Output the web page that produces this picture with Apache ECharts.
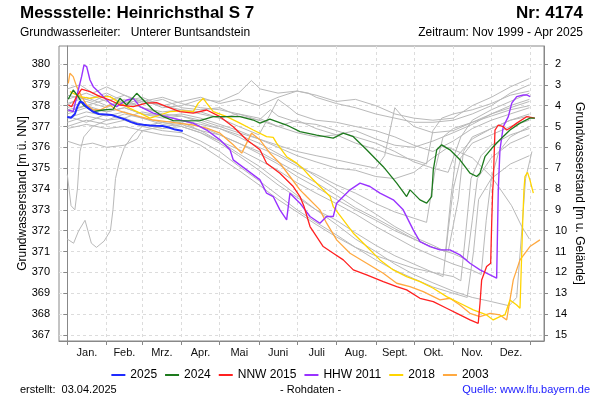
<!DOCTYPE html>
<html><head><meta charset="utf-8">
<script src="https://cdn.jsdelivr.net/npm/echarts@6/dist/echarts.min.js"></script>
<style>html,body{margin:0;padding:0;background:#fff}#c{width:600px;height:400px}</style>
</head><body><div id="c"></div>
<script>
// Month ticks (day of year) and labels
const monthStarts = [0,31,59,90,120,151,181,212,243,273,304,334,365];
const monthMids = [15.5,45,74.5,105,135.5,166,196.5,227.5,258,288.5,319,349.5];
const monthLabels = ['Jan.','Feb.','Mrz.','Apr.','Mai','Juni','Juli','Aug.','Sept.','Okt.','Nov.','Dez.'];
const levelTicks = [367,368,369,370,371,372,373,374,375,376,377,378,379,380];
const groundLevel = 382; // m ü. NN, for right axis (m u. Gelände)

// Highlighted years: [day of year, m ü. NN]
const y2025 = [[0,377.45],[3,377.42],[6,377.6],[8,377.95],[10,378.2],[12,378.15],[15,377.95],[20,377.72],[25,377.6],[30,377.58],[35,377.55],[40,377.45],[45,377.35],[50,377.22],[55,377.12],[60,377.08],[65,377.05],[70,377.03],[75,377.02],[80,376.95],[85,376.85],[91,376.78]];
const y2024 = [[0.8,378.31],[4.7,378.75],[8.7,378.43],[12.6,378.03],[20.5,377.71],[28.4,377.79],[36.2,377.83],[41.5,378.35],[46.8,378.03],[54.7,378.59],[59.9,378.27],[67.7,377.79],[75.6,377.47],[83.5,377.28],[94,377.27],[104.5,377.28],[115,377.47],[125.6,377.47],[136,377.47],[146.5,377.31],[151.8,377.16],[159.6,377.35],[172.8,377.07],[183.3,376.75],[196.4,376.59],[209.5,376.44],[217.4,376.68],[225.3,376.51],[235.8,375.88],[248.9,375.07],[259.5,374.28],[267.3,373.64],[270,373.96],[273.9,373.72],[277.8,373.48],[283.1,373.32],[287,373.64],[288.3,374.92],[291,375.88],[294.9,376.12],[301.4,375.88],[309.3,375.4],[317.2,374.76],[322.5,374.6],[325.1,374.76],[329,375.55],[335.5,376.03],[340.8,376.36],[348.7,376.83],[356.6,377.16],[364.4,377.4],[368.3,377.4]];
const nnw2015 = [[0.8,378.03],[3.4,377.95],[7.3,378.43],[11.3,378.79],[17.9,378.67],[25.8,378.43],[33.6,378.27],[41.5,378.03],[52,377.95],[62.5,378.12],[70.4,378.14],[78.3,377.95],[88.7,377.71],[99.2,377.64],[109.8,377.79],[120.3,377.47],[130.7,376.99],[141.3,376.36],[151.8,375.88],[157,375.24],[167.5,374.76],[178,374.12],[183.3,373.64],[186.5,373.16],[191.2,372.2],[201.6,371.24],[209.5,370.92],[217.4,370.6],[225.3,370.12],[235.8,369.88],[248.9,369.56],[259.5,369.32],[267.3,369.16],[277.8,368.76],[288.3,368.6],[298.8,368.28],[309.3,367.96],[317.2,367.72],[323.7,367.56],[325.1,368.52],[326.4,369.64],[330.3,370.28],[333.5,370.44],[334.3,372.36],[335.1,373.96],[335.5,374.28],[336.9,376.83],[339.5,377.07],[343.4,376.99],[346.1,376.83],[348.7,376.92],[354,377.16],[361.8,377.47],[368.3,377.4]];
const hhw2011 = [[0.8,377.79],[4.7,377.71],[8.7,378.75],[11.3,379.39],[13.2,379.95],[15.3,379.87],[17.9,379.23],[20.5,378.91],[25.8,378.59],[33.6,378.12],[38.9,377.95],[46.8,378.27],[52,378.35],[57.3,377.95],[67.7,377.64],[78.3,377.47],[88.7,377.31],[99.2,377.16],[109.8,376.83],[120.3,376.36],[128.2,375.88],[130.7,375.4],[141.3,374.92],[151.8,374.44],[157,373.8],[162.2,373.64],[167.5,373.0],[172.8,372.52],[175.4,373.8],[183.3,373.32],[191.2,372.68],[199,372.36],[204.3,372.68],[209.5,372.68],[212.2,373.32],[217.4,373.64],[222.7,373.96],[230.6,374.28],[238.4,374.12],[246.3,373.8],[256.8,373.48],[264.6,373.0],[272.5,372.04],[277.8,371.48],[285.7,371.24],[293.6,371.08],[301.4,371.08],[309.3,370.84],[317.2,370.44],[325.1,370.12],[333,369.88],[338.2,369.72],[339.5,373.96],[340.8,375.88],[343.4,376.99],[347.4,377.47],[350.1,378.12],[354,378.43],[359.3,378.51],[361.9,378.51],[364.6,378.43]];
const y2018 = [[2.1,378.67],[10,378.43],[17.9,378.35],[25.8,378.43],[33.6,378.43],[41.5,378.12],[49.4,377.87],[57.3,377.64],[65.1,377.4],[73,377.55],[80.9,377.71],[91.4,377.75],[99.2,377.71],[103.2,378.12],[107.1,378.35],[109.8,378.12],[115,377.71],[125.6,377.47],[136,377.16],[146.5,376.83],[157,376.51],[162.2,376.48],[164.9,376.2],[172.8,375.55],[180.7,375.24],[186.5,374.92],[191.2,374.6],[199,374.12],[207,373.64],[209.5,373.16],[217.4,372.52],[225.3,371.88],[235.8,371.24],[246.3,370.6],[256.8,370.12],[267.3,369.8],[277.8,369.56],[288.3,369.24],[298.8,368.84],[309.3,368.52],[319.8,368.2],[330.3,367.96],[335.5,367.72],[340.8,367.88],[344.7,367.96],[348.7,368.68],[354,368.44],[356.6,368.28],[358.7,372.36],[359.7,373.96],[360.5,374.6],[362.5,374.8],[364.4,374.44],[367.1,373.8]];
const y2003 = [[0.8,379.07],[2.1,379.55],[4.7,379.39],[7.4,378.91],[11.3,378.43],[15.3,378.03],[20.5,377.79],[25.8,377.79],[33.6,378.03],[38.9,377.79],[46.8,377.64],[57.3,377.47],[67.7,377.31],[78.3,377.23],[88.7,377.15],[99.2,377.07],[109.8,376.92],[120.3,376.68],[130.7,376.12],[137.4,375.72],[141.3,376.2],[145.2,376.68],[151.8,376.36],[159.6,375.72],[167.5,375.24],[175.4,374.6],[183.3,373.96],[188.5,373.64],[199,373.0],[204.3,372.36],[212.2,371.56],[222.7,370.92],[235.8,370.44],[248.9,369.96],[259.5,369.48],[269.9,369.32],[280.4,369.08],[293.6,368.68],[301.4,368.76],[309.3,368.44],[317.2,368.04],[325.1,367.88],[333,368.04],[340.8,367.96],[346.1,367.72],[348.7,368.68],[351.3,369.64],[356.6,370.6],[364.4,371.24],[372.3,371.56]];

// Other years (grey)
const g1 = [[0,378.0],[10,378.4],[20,378.2],[31,378.5],[45,378.1],[59,378.3],[75,377.9],[90,378.0],[105,378.3],[120,378.2],[135,378.6],[145,379.2],[152,378.8],[166,378.6],[181,378.7],[196,378.5],[212,378.2],[227,378.3],[243,378.0],[258,377.6],[273,377.4],[288,377.3],[304,377.4],[319,378.0],[334,378.4],[349,378.9],[364,379.3]];
const g2 = [[0,377.9],[15,378.2],[31,377.9],[45,378.3],[59,377.9],[75,377.7],[90,377.8],[105,377.6],[120,377.4],[135,377.6],[151,377.3],[166,377.0],[181,377.3],[196,376.9],[212,376.6],[227,376.8],[243,376.4],[258,376.1],[273,376.0],[288,376.3],[304,376.7],[319,377.1],[334,377.6],[349,377.9],[364,378.2]];
const g3 = [[0,377.6],[15,377.9],[31,377.7],[45,377.9],[59,377.6],[75,377.4],[90,377.5],[105,377.2],[120,376.9],[135,376.5],[151,376.0],[166,375.6],[181,375.1],[196,374.7],[212,374.2],[227,373.8],[243,373.3],[258,372.9],[273,372.6],[283,372.4],[290,375.0],[296,376.5],[304,376.9],[319,377.2],[334,377.5],[349,377.8],[364,378.0]];
const g4 = [[0,374.7],[3,373.2],[6,373.0],[8,374.0],[10,375.8],[13,376.5],[20,377.0],[31,377.3],[45,377.6],[59,377.4],[75,377.2],[90,377.3],[105,377.0],[120,376.6],[135,376.2],[151,375.7],[166,375.2],[181,374.6],[196,374.1],[212,373.5],[227,373.0],[243,372.5],[258,372.0],[273,371.6],[288,371.2],[300,371.0],[308,373.5],[312,375.8],[319,376.5],[334,376.9],[349,377.3],[364,377.5]];
const g5 = [[0,371.6],[5,371.4],[9,372.0],[14,372.5],[19,371.4],[23,371.2],[29,371.5],[34,372.0],[36,373.0],[38,374.5],[41,375.3],[45,376.0],[52,376.6],[59,377.0],[75,377.2],[90,377.0],[105,376.7],[120,376.3],[135,375.9],[151,375.4],[166,374.9],[181,374.3],[196,373.8],[212,373.3],[227,372.8],[243,372.2],[258,371.7],[273,371.2],[288,370.8],[304,370.4],[319,370.1],[326,369.9],[330,372.5],[334,374.5],[340,375.8],[349,376.5],[364,377.0]];
const g6 = [[0,376.3],[10,376.1],[20,376.2],[31,376.0],[45,376.1],[55,376.4],[59,376.8],[75,377.0],[90,377.1],[105,376.8],[120,376.6],[135,376.2],[151,375.8],[166,375.3],[181,374.8],[196,374.3],[212,373.7],[227,373.1],[243,372.6],[258,372.1],[273,371.6],[288,371.2],[304,370.9],[315,370.6],[319,372.5],[323,374.5],[334,375.5],[349,376.2],[364,376.6]];
const g7 = [[0,377.4],[15,377.7],[31,377.5],[45,377.7],[59,377.4],[75,377.1],[90,377.2],[105,376.8],[120,376.3],[135,375.7],[151,375.1],[166,374.4],[181,373.7],[196,373.0],[212,372.3],[227,371.6],[243,371.0],[258,370.4],[273,369.9],[288,369.5],[304,369.1],[319,368.8],[334,368.6],[348,368.4],[354,368.8],[358,372.0],[361,374.5],[366,375.8]];
const g8 = [[0,378.3],[15,378.6],[31,378.2],[45,378.5],[59,378.1],[75,378.3],[90,377.9],[105,377.8],[120,377.9],[135,377.5],[151,377.3],[160,377.8],[166,377.5],[181,377.2],[196,377.1],[212,376.8],[227,376.5],[243,376.2],[258,375.8],[273,375.3],[288,375.0],[300,374.8],[310,376.5],[319,377.3],[334,377.8],[349,378.2],[364,378.6]];
const g9 = [[0,377.2],[15,377.5],[31,377.3],[45,377.4],[59,377.1],[75,376.9],[90,377.0],[105,376.7],[120,376.2],[135,375.6],[151,374.9],[166,374.2],[181,373.6],[196,373.0],[212,372.5],[227,371.9],[243,371.3],[258,370.8],[273,370.4],[288,370.0],[296,369.8],[300,372.0],[304,374.0],[310,375.5],[319,376.2],[334,376.6],[349,377.0],[364,377.3]];
const g10 = [[0,378.5],[15,378.3],[31,378.6],[45,378.2],[59,378.4],[75,378.0],[90,377.8],[105,377.7],[120,377.4],[135,377.0],[151,376.6],[160,377.6],[166,378.3],[175,377.9],[181,377.6],[196,377.3],[212,377.2],[227,377.0],[243,376.8],[258,376.5],[273,376.1],[288,375.8],[304,376.3],[319,376.9],[334,377.3],[349,377.6],[364,377.9]];
const g11 = [[0,377.0],[15,377.3],[31,377.1],[45,377.3],[59,377.0],[75,376.8],[90,376.7],[105,376.3],[120,375.8],[135,375.1],[151,374.4],[166,373.7],[181,373.0],[196,372.4],[212,371.8],[227,371.2],[243,370.6],[258,370.1],[273,369.7],[288,369.3],[304,369.0],[315,368.8],[320,371.0],[324,373.5],[334,374.5],[349,375.2],[364,375.6]];
const g12 = [[0,377.8],[15,378.0],[31,377.7],[45,377.9],[59,377.6],[75,377.5],[90,377.6],[105,377.4],[120,377.1],[135,376.8],[151,376.4],[166,376.0],[181,375.6],[196,375.3],[212,375.0],[227,374.9],[243,374.6],[258,374.5],[273,374.8],[288,375.5],[300,376.0],[319,375.5],[334,374.6],[341,374.0],[350,373.2],[358,372.2],[364,371.6]];
const g13 = [[0,378.8],[10,379.0],[20,378.6],[31,378.9],[45,378.5],[59,378.2],[75,378.4],[90,378.1],[105,377.9],[120,377.8],[135,377.6],[151,377.4],[166,377.0],[181,376.7],[196,376.5],[212,376.6],[227,376.2],[243,375.9],[258,375.6],[273,375.4],[283,375.2],[288,376.8],[295,377.4],[304,377.6],[319,377.8],[334,378.1],[349,378.5],[364,378.7]];
const g14 = [[0,377.5],[15,377.2],[31,377.6],[45,377.4],[59,377.7],[75,377.5],[90,377.3],[105,377.1],[120,376.9],[135,376.6],[151,376.2],[166,375.7],[181,375.2],[196,374.6],[212,374.0],[227,373.4],[243,372.8],[258,372.2],[273,371.7],[288,371.3],[298,371.0],[302,373.5],[306,375.5],[319,376.4],[334,376.9],[349,377.3],[364,377.6]];
const g15 = [[0,378.1],[15,378.4],[31,378.0],[45,378.2],[59,377.9],[75,377.6],[90,377.5],[105,377.3],[120,377.0],[135,376.7],[151,376.4],[166,376.1],[181,375.8],[196,375.6],[212,375.4],[227,375.2],[243,375.0],[250,375.6],[258,377.9],[265,377.4],[273,377.0],[288,376.7],[304,376.8],[319,377.2],[334,377.6],[349,378.0],[364,378.3]];
const g16 = [[0,376.9],[15,377.1],[31,376.9],[45,377.0],[59,376.8],[75,376.6],[90,376.5],[105,376.1],[120,375.5],[135,374.9],[151,374.2],[166,373.5],[181,372.9],[196,372.3],[212,371.7],[227,371.2],[243,370.8],[258,370.5],[273,370.2],[288,370.0],[304,369.8],[310,369.6],[314,372.0],[318,374.5],[326,375.6],[334,376.1],[349,376.6],[364,376.9]];
const g17 = [[0,377.7],[15,378.0],[31,378.3],[45,378.0],[59,378.2],[75,378.0],[90,378.2],[105,378.4],[120,378.1],[135,378.3],[151,378.0],[166,378.4],[181,378.7],[190,378.6],[196,378.4],[212,378.1],[227,377.9],[243,377.6],[258,377.4],[273,377.2],[288,377.2],[304,377.3],[319,377.6],[334,378.0],[349,378.6],[364,379.0]];
const greyYears = [g1,g2,g3,g4,g5,g6,g7,g8,g9,g10,g11,g12,g13,g14,g15,g16,g17];

const FONT = '"Liberation Sans", Arial, sans-serif';
const chart = echarts.init(document.getElementById('c'), null, {renderer:'canvas'});

const series = greyYears.map(d => ({
  type:'line', data:d, showSymbol:false, silent:true, z:1,
  lineStyle:{color:'#b9b9b9', width:1}
}));
const hl = [
  ['2003', y2003, '#ffa940', 1.3],
  ['2018', y2018, '#ffd500', 1.3],
  ['HHW 2011', hhw2011, '#9933ff', 1.4],
  ['NNW 2015', nnw2015, '#ff2020', 1.3],
  ['2024', y2024, '#1d7a1d', 1.3],
  ['2025', y2025, '#1f2bff', 2]
];
hl.forEach(([n,d,c,w]) => series.push({
  name:n, type:'line', data:d, showSymbol:false, z:3, color:c,
  lineStyle:{color:c, width:w}
}));

const axisCol = '#888';
chart.setOption({
  animation:false,
  backgroundColor:'#fff',
  textStyle:{fontFamily:FONT},
  grid:{left:59, right:56, top:46, bottom:59, show:true, borderColor:axisCol, borderWidth:1, containLabel:false},
  legend:{
    data:['2025','2024','NNW 2015','HHW 2011','2018','2003'],
    top:364, left:'center', itemWidth:14, itemHeight:2, icon:'rect', itemGap:8,
    textStyle:{fontSize:12, color:'#000', fontFamily:FONT}
  },
  xAxis:{
    type:'value', min:-6.5, max:375.5,
    axisLine:{show:true, onZero:false, lineStyle:{color:axisCol}},
    axisTick:{show:true, customValues:monthStarts, length:4, lineStyle:{color:axisCol}},
    axisLabel:{customValues:monthMids, margin:6, fontSize:11, color:'#111', fontFamily:FONT,
      formatter:v => monthLabels[monthMids.indexOf(v)] || ''},
    splitLine:{show:true, lineStyle:{color:'#dcdcdc', type:[3,3]}}
  },
  yAxis:[{
    type:'value', min:366.71, max:380.86, position:'left',
    name:'Grundwasserstand [m ü. NN]', nameLocation:'middle', nameGap:30, nameMoveOverlap:false,
    nameTextStyle:{fontSize:12, color:'#000', fontFamily:FONT},
    axisLine:{show:true, lineStyle:{color:axisCol}},
    axisTick:{show:true, customValues:levelTicks, length:4, lineStyle:{color:axisCol}},
    axisLabel:{customValues:levelTicks, fontSize:11, color:'#000', margin:9, fontFamily:FONT},
    splitLine:{show:true, lineStyle:{color:'#dcdcdc', type:[3,3]}}
  },{
    type:'value', min:366.71, max:380.86, position:'right',
    name:'Grundwasserstand [m u. Gelände]', nameLocation:'middle', nameGap:29, nameRotate:-90, nameMoveOverlap:false,
    nameTextStyle:{fontSize:12, color:'#000', fontFamily:FONT},
    axisLine:{show:true, lineStyle:{color:axisCol}},
    axisTick:{show:true, customValues:levelTicks, length:4, lineStyle:{color:axisCol}},
    axisLabel:{customValues:levelTicks, fontSize:11, color:'#000', margin:11, fontFamily:FONT,
      formatter:v => String(Math.round(groundLevel - v))},
    splitLine:{show:false}
  }],
  graphic:[
    {type:'text', left:20, top:5, style:{text:'Messstelle: Heinrichsthal S 7', font:'bold 17px '+FONT, fill:'#000'}},
    {type:'text', right:17, top:5, style:{text:'Nr: 4174', font:'bold 17px '+FONT, fill:'#000'}},
    {type:'text', left:20, top:27, style:{text:'Grundwasserleiter:   Unterer Buntsandstein', font:'12px '+FONT, fill:'#000'}},
    {type:'text', right:17, top:27, style:{text:'Zeitraum: Nov 1999 - Apr 2025', font:'12px '+FONT, fill:'#000'}},
    {type:'text', left:20, top:384, style:{text:'erstellt:  03.04.2025', font:'11px '+FONT, fill:'#000'}},
    {type:'text', left:280, top:384, style:{text:'- Rohdaten -', font:'11px '+FONT, fill:'#000'}},
    {type:'text', right:10, top:384, style:{text:'Quelle: www.lfu.bayern.de', font:'11px '+FONT, fill:'#1a1aff'}}
  ],
  series:series
});
</script></body></html>
